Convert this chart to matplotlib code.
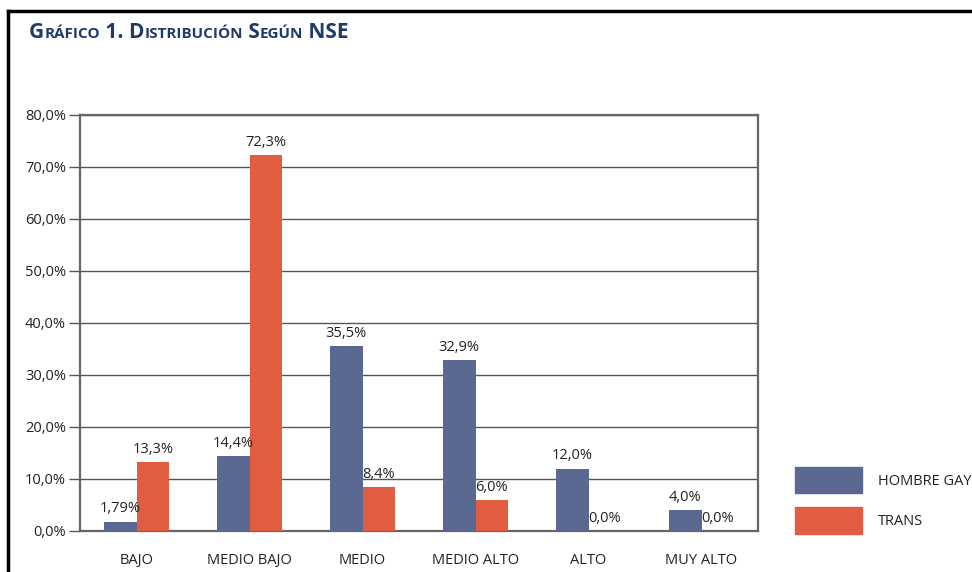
import matplotlib.pyplot as plt
from matplotlib.lines import Line2D
from matplotlib.patches import Patch
import numpy as np

categorias = ["BAJO", "MEDIO BAJO", "MEDIO", "MEDIO ALTO", "ALTO", "MUY ALTO"]
hombre_gay = [1.79, 14.4, 35.5, 32.9, 12.0, 4.0]
trans = [13.3, 72.3, 8.4, 6.0, 0.0, 0.0]
etiquetas_gay = ["1,79%", "14,4%", "35,5%", "32,9%", "12,0%", "4,0%"]
etiquetas_trans = ["13,3%", "72,3%", "8,4%", "6,0%", "0,0%", "0,0%"]
series = ["HOMBRE GAY", "TRANS"]

azul = "#5b6892"
rojo = "#e05d41"
fuente = "Open Sans"
tam = 10.5

fig = plt.figure(figsize=(9.72, 5.72), dpi=100)
ax = fig.add_axes([80 / 972, 1 - 531 / 572, 678 / 972, 416 / 572])

x = np.arange(len(categorias))
w = 0.29
ax.bar(x - w / 2, hombre_gay, w, color=azul, zorder=3)
ax.bar(x + w / 2, trans, w, color=rojo, zorder=3)

for xi, v, t in zip(x, hombre_gay, etiquetas_gay):
    ax.text(xi - w / 2, v + 1.0, t, ha="center", va="bottom", fontsize=tam,
            family=fuente, color="#222222")
for xi, v, t in zip(x, trans, etiquetas_trans):
    ax.text(xi + w / 2, v + 1.0, t, ha="center", va="bottom", fontsize=tam,
            family=fuente, color="#222222")

ax.set_xlim(-0.5, len(categorias) - 0.5)
ax.set_ylim(0, 80)
yt = np.arange(0, 81, 10)
ax.set_yticks(yt)
ax.set_yticklabels([f"{v:.1f}%".replace(".", ",") for v in yt], family=fuente,
                   fontsize=tam, color="#222222")
ax.set_xticks(x)
ax.set_xticklabels(categorias, family=fuente, fontsize=tam, color="#222222")
ax.tick_params(axis="x", length=0, pad=16)
ax.tick_params(axis="y", length=8, width=1, color="#555555", pad=2)
ax.grid(axis="y", color="#555555", linewidth=1, zorder=0)
for s in ax.spines.values():
    s.set_color("#666666")
    s.set_linewidth(1.6)

# leyenda
handles = [Patch(color=azul), Patch(color=rojo)]
leg = fig.legend(handles, series, loc="upper left",
                 bbox_to_anchor=(782 / 972, 1 - 454 / 572), frameon=False,
                 handlelength=4.6, handleheight=2.4, handletextpad=1.1,
                 labelspacing=0.95, prop={"family": fuente, "size": tam})
for t in leg.get_texts():
    t.set_color("#222222")

# marco
fig.add_artist(Line2D([8 / 972, 1], [1 - 11 / 572] * 2, color="black", lw=2.5))
fig.add_artist(Line2D([8 / 972] * 2, [0, 1 - 11 / 572], color="black", lw=2.5))

# titulo en versalitas
partes = [("G", 15), ("RÁFICO", 11), (" 1. ", 15), ("D", 15), ("ISTRIBUCIÓN", 11),
          (" S", 15), ("EGÚN", 11), (" NSE", 15)]
fig.canvas.draw()
r = fig.canvas.get_renderer()
xp = 29 / 972
for txt, sz in partes:
    t = fig.text(xp, 1 - 38 / 572, txt, fontsize=sz, fontweight="bold",
                 family=fuente, color="#1f3a6b", va="baseline")
    bb = t.get_window_extent(renderer=r)
    xp += bb.width / 972

fig.savefig("out.png", dpi=100)
